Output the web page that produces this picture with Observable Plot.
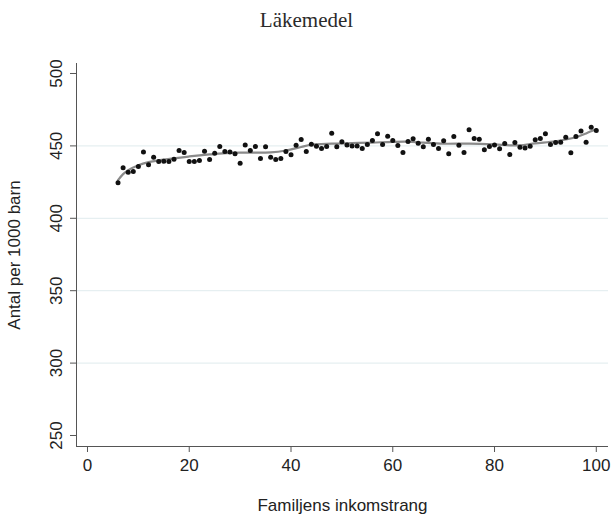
<!DOCTYPE html>
<html>
<head>
<meta charset="utf-8">
<script src="https://cdn.jsdelivr.net/npm/d3@7"></script>
<script src="https://cdn.jsdelivr.net/npm/@observablehq/plot@0.6"></script>
<style>
  body { margin: 0; background: #fff; }
  #title { width: 613px; height: 40px; line-height: 40px; text-align: center;
           font-family: "Liberation Serif", "DejaVu Serif", serif; font-size: 21px; color: #2a2a2a; }
</style>
</head>
<body>
<div id="title">Läkemedel</div>
<div id="chart"></div>
<script>
// Data
const incomeRank = [6,7,8,9,10,11,12,13,14,15,16,17,18,19,20,21,22,23,24,25,26,27,28,29,30,31,32,33,34,35,36,37,38,39,40,41,42,43,44,45,46,47,48,49,50,51,52,53,54,55,56,57,58,59,60,61,62,63,64,65,66,67,68,69,70,71,72,73,74,75,76,77,78,79,80,81,82,83,84,85,86,87,88,89,90,91,92,93,94,95,96,97,98,99,100];
const ratePer1000 = [424.5,434.9,431.8,432.3,435.8,445.7,437,442.2,439.2,439.4,439.2,440.8,446.8,445.4,439.2,439.2,439.9,446.3,440.6,445,449.6,446.1,445.7,444.5,438,450.7,446.8,449.6,441.3,449.4,442.2,440.6,441.3,446.1,443.8,450.5,454.4,446.1,451.2,449.8,448.2,449.6,458.8,449.4,452.8,450.7,450,450,448.2,451,453.7,458.3,451,456.7,453.7,450.3,445.4,453,454.9,451.9,449.4,454.6,451,448.2,453.5,444.5,456.5,450.5,445.4,461.1,455.1,454.6,447.3,449.6,450.7,448,451.7,444.1,452.3,449.1,448.6,449.8,454.2,455.1,458.3,451,452.3,452.6,456,445.2,456.5,460.2,452.6,462.9,460.6];
const smoothX = [6,7,8,10,12,15,20,24,28,32,36,39,42,44,48,52,56,60,63,66,70,75,80,83,85,88,92,96,98,100];
const smoothY = [426.3,430.5,433.2,436.7,438.8,440.6,442.7,444.1,445.2,445.3,445.5,446.8,449.2,450.8,451.5,451.9,452.3,452.8,452.9,452.2,451.5,451.6,451.0,450.4,450.4,451.8,453.2,456.0,458.6,461.6];
const yTicks = [250,300,350,400,450,500];
const yGrid = [300,350,400,450];
const xTicks = [0,20,40,60,80,100];
const xLabel = "Familjens inkomstrang";
const yLabel = "Antal per 1000 barn";
const xMin = -2.16, xMax = 102.4, yMin = 242.4, yMax = 506.9;

const points = incomeRank.map((x, i) => ({x, y: ratePer1000[i]}));
const smooth = smoothX.map((x, i) => ({x, y: smoothY[i]}));

const font = "Liberation Sans, Arial, sans-serif";
const chart = Plot.plot({
  width: 613,
  height: 475,
  marginTop: 23,
  marginBottom: 69,
  marginLeft: 76,
  marginRight: 5,
  style: {fontFamily: font, fontSize: "17px", color: "#222", background: "#fff"},
  x: {domain: [xMin, xMax]},
  y: {domain: [yMin, yMax]},
  marks: [
    Plot.ruleY(yGrid, {stroke: "#e6eff1", strokeWidth: 1.2}),
    Plot.ruleX([xMin], {stroke: "#555", strokeWidth: 1}),
    Plot.ruleY([yMin], {stroke: "#555", strokeWidth: 1}),
    Plot.axisX({ticks: xTicks, tickSize: 6, tickPadding: 6, stroke: "#555", label: null, fontSize: 17, tickFormat: d => String(d)}),
    Plot.axisY({ticks: yTicks, tickSize: 6, stroke: "#555", label: null, tickFormat: () => ""}),
    Plot.text(yTicks, {y: d => d, text: d => String(d), frameAnchor: "left", dx: -20, rotate: -90, textAnchor: "middle", lineAnchor: "middle", fontSize: 17, fill: "#222"}),
    Plot.text([xLabel], {frameAnchor: "bottom", dy: 59, textAnchor: "middle", lineAnchor: "middle", fontSize: 17, fill: "#222"}),
    Plot.text([yLabel], {frameAnchor: "left", dx: -62, rotate: -90, textAnchor: "middle", lineAnchor: "middle", fontSize: 17, fill: "#222"}),
    Plot.line(smooth, {x: "x", y: "y", stroke: "#8a8a8a", strokeWidth: 2.2, curve: "catmull-rom"}),
    Plot.dot(points, {x: "x", y: "y", r: 2.5, fill: "#111", stroke: "none"})
  ]
});
document.getElementById("chart").appendChild(chart);
</script>
</body>
</html>
